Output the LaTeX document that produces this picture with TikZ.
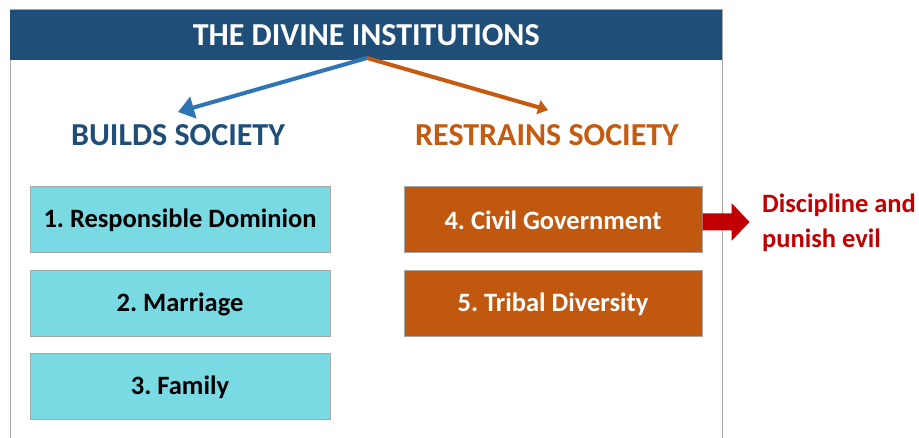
\documentclass[tikz,border=0pt]{standalone}
\usepackage{fontspec}
\setmainfont{Carlito}
\usetikzlibrary{arrows.meta}
\definecolor{hdrblue}{HTML}{1F4E79}
\definecolor{arrblue}{HTML}{2E75B6}
\definecolor{orng}{HTML}{C55A11}
\definecolor{boxorng}{HTML}{C0590F}
\definecolor{cyanbox}{HTML}{7ADAE4}
\definecolor{redtxt}{HTML}{C00000}
\definecolor{frame}{HTML}{A6A6A6}
\begin{document}
\frenchspacing
\begin{tikzpicture}[x=1pt,y=-1pt,
  cbox/.style={draw=frame,line width=1pt,fill=cyanbox,minimum width=300pt,minimum height=66pt,inner sep=0pt,font=\fontsize{26.5}{30}\selectfont\bfseries,text=black},
  obox/.style={draw=frame,line width=1pt,fill=boxorng,minimum width=298pt,minimum height=66pt,inner sep=0pt,font=\fontsize{26.5}{30}\selectfont\bfseries,text=white},
  heading/.style={font=\fontsize{32}{36}\selectfont\bfseries,inner sep=0pt}]
\useasboundingbox (0,0) rectangle (919,438);
\draw[frame,line width=1pt] (10,438) -- (10,10) -- (722,10) -- (722,438);
\node[fill=hdrblue,minimum width=712pt,minimum height=50pt,inner sep=0pt,anchor=north west,text=white,font=\fontsize{32}{36}\selectfont\bfseries] (hdr) at (10,10) {THE DIVINE INSTITUTIONS};
\coordinate (src) at (367,58);
\coordinate (lt) at (178,112);
\coordinate (rt) at (548,110);
\draw[arrblue,line width=4pt,-{Triangle[length=16pt,width=22pt]}] (src) -- (lt);
\draw[orng,line width=4pt,-{Triangle[length=10pt,width=14pt]}] (src) -- (rt);
\node[heading,text=hdrblue] (bs) at (178,135) {BUILDS SOCIETY};
\node[heading,text=orng] (rs) at (547,135) {RESTRAINS SOCIETY};
\node[cbox] (b1) at (180,220) {1. Responsible Dominion};
\node[cbox] (b2) at (180,304) {2. Marriage};
\node[cbox] (b3) at (180,387) {3. Family};
\node[obox] (b4) at (553,220) {4. Civil Government};
\node[obox] (b5) at (553,304) {5. Tribal Diversity};
\fill[redtxt] (b4.east) ++(0,-6.5) -- ++(29,0) -- ++(0,-10.5) -- ++(18,19) -- ++(-18,19) -- ++(0,-10.5) -- ++(-29,0) -- cycle;
\node[anchor=west,align=left,text=redtxt,font=\fontsize{26.5}{35}\selectfont\bfseries,inner sep=0pt] (dp) at (762,223) {Discipline and\\punish evil};
\end{tikzpicture}
\end{document}
